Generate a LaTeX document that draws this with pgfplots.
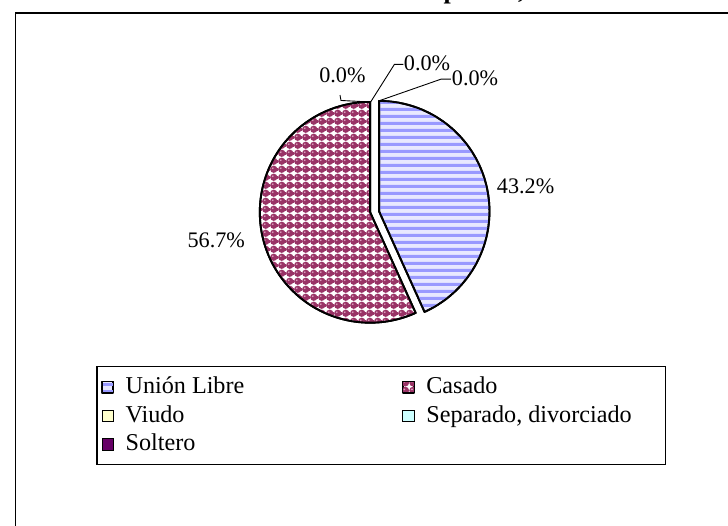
\documentclass[border=0pt]{standalone}
\usepackage{fontspec}
\setmainfont{Liberation Serif}
\usepackage{pgfplots}
\usepackage{pgfplotstable}
\pgfplotsset{compat=1.18}
\usetikzlibrary{patterns}

\definecolor{uniblue}{HTML}{9999FF}
\definecolor{unilight}{HTML}{E8E8FF}
\definecolor{casmaroon}{HTML}{993366}
\definecolor{cashi}{HTML}{E0A8C4}
\definecolor{viudo}{HTML}{FFFFCC}
\definecolor{separado}{HTML}{CCFFFF}
\definecolor{soltero}{HTML}{660066}

\pgfdeclarepatterninherentlycolored{unistripes}{\pgfpoint{0bp}{0bp}}{\pgfpoint{10bp}{6.7bp}}{\pgfpoint{10bp}{6.7bp}}{%
  \pgfsetfillcolor{uniblue}%
  \pgfpathrectangle{\pgfpoint{0bp}{0bp}}{\pgfpoint{10bp}{3.4bp}}%
  \pgfusepath{fill}}

\pgfdeclarepatterninherentlycolored{casballs}{\pgfpoint{0bp}{0bp}}{\pgfpoint{7.8bp}{7.8bp}}{\pgfpoint{7.8bp}{7.8bp}}{%
  \pgfsetfillcolor{casmaroon}%
  \pgfpathcircle{\pgfpoint{3.9bp}{3.9bp}}{3.8bp}%
  \pgfusepath{fill}%
  \pgfsetfillcolor{cashi}%
  \pgfpathcircle{\pgfpoint{2.9bp}{5.0bp}}{1.0bp}%
  \pgfusepath{fill}}

\pgfplotstableread[col sep=semicolon]{
estado;pct
Unión Libre;43.2
Casado;56.7
Viudo;0.0
Separado, divorciado;0.0
Soltero;0.0
}\piedata

\newcommand{\lbl}{\fontsize{22.5}{26}\selectfont}

\begin{document}
\pgfplotstablegetelem{0}{pct}\of\piedata \let\pA\pgfplotsretval
\pgfplotstablegetelem{1}{pct}\of\piedata \let\pB\pgfplotsretval
\pgfplotstablegetelem{2}{pct}\of\piedata \let\pC\pgfplotsretval
\pgfplotstablegetelem{3}{pct}\of\piedata \let\pD\pgfplotsretval
\pgfplotstablegetelem{4}{pct}\of\piedata \let\pE\pgfplotsretval
\pgfmathsetmacro\ptot{\pA+\pB+\pC+\pD+\pE}
\pgfmathsetmacro\aEnd{90-360*\pA/\ptot}
\pgfmathsetmacro\bEnd{\aEnd+360-360*(\pC+\pD+\pE)/\ptot}
\begin{tikzpicture}
\begin{axis}[
  at={(0,0)}, anchor=south west,
  width=728bp, height=531bp, scale only axis,
  xmin=0, xmax=728, ymin=0, ymax=531, y dir=reverse,
  hide axis,
  legend columns=2,
  legend cell align=left,
  legend image code/.code={\draw[#1,draw=black,line width=0.8bp] (0bp,-5.75bp) rectangle (11.5bp,5.75bp);},
  legend style={
    at={(axis cs:90,370)}, anchor=north west,
    draw=black, line width=1.2bp, fill=white,
    inner xsep=4.5bp, inner ysep=8bp,
    font=\fontsize{24.5}{29}\selectfont,
    nodes={inner sep=0pt, text height=19bp, text depth=6bp},
    row sep=4bp,
    /tikz/every odd column/.append style={column sep=12bp},
    /tikz/every even column/.append style={column sep=159.6bp},
  },
]
% outer frame
\draw[line width=1.3bp] (8,545) -- (8,13) -- (745,13);

% Union Libre (exploded)
\addplot[mark=none, draw=black, line width=1.9bp, line join=round,
  preaction={fill=unilight}, pattern=unistripes,
  domain=\aEnd:90, samples=120, variable=\t]
  ({375.5+111.5*cos(\t)}, {213.5-111.5*sin(\t)}) -- (375.5,213.5) -- cycle;
\addlegendentry{Unión Libre}

% Casado
\addplot[mark=none, draw=black, line width=1.9bp, line join=round,
  preaction={fill=white}, pattern=casballs,
  domain=90:\bEnd, samples=150, variable=\t]
  ({366.5+111.5*cos(\t)}, {214.5-111.5*sin(\t)}) -- (366.5,214.5) -- cycle;
\addlegendentry{Casado}

\addlegendimage{fill=viudo}
\addlegendentry{Viudo}
\addlegendimage{fill=separado}
\addlegendentry{Separado, divorciado\hspace*{30bp}}
\addlegendimage{fill=soltero}
\addlegendentry{Soltero}

% leader lines
\draw[line width=0.9bp] (336,96) -- (337,101.5) -- (366,103);
\draw[line width=0.9bp] (400,65) -- (391,65) -- (367,103);
\draw[line width=0.9bp] (448,80) -- (438,80) -- (375,102);

% labels
\node[anchor=base, font=\lbl, inner sep=0pt] at (338.5,83.3) {0.0\%};
\node[anchor=base, font=\lbl, inner sep=0pt] at (424,71.7) {0.0\%};
\node[anchor=base, font=\lbl, inner sep=0pt] at (472.5,86.7) {0.0\%};
\node[anchor=base, font=\lbl, inner sep=0pt] at (523.5,195) {43.2\%};
\node[anchor=base, font=\lbl, inner sep=0pt] at (211,250) {56.7\%};
\end{axis}
\node[anchor=base east, font=\bfseries\fontsize{26.3}{30}\selectfont, inner sep=0pt] at (522.6bp,532.7bp) {Estado civil de los padres,};
\pgfresetboundingbox
\path[use as bounding box] (0,0) rectangle (728bp,531bp);
\end{tikzpicture}
\end{document}
